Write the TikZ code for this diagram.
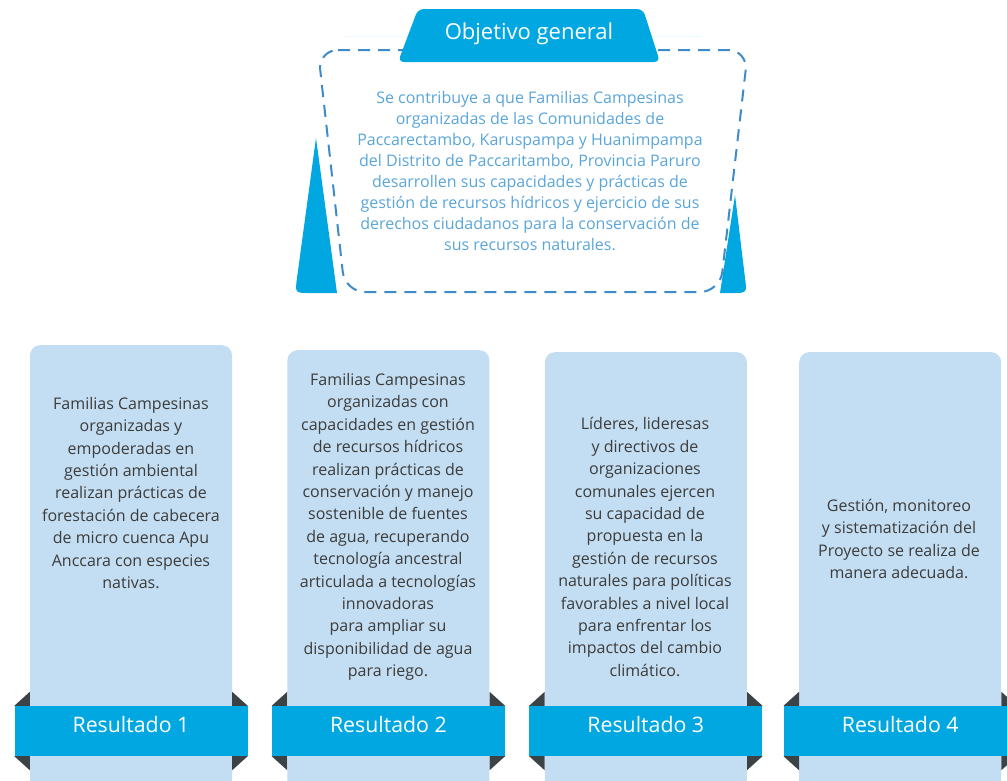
\documentclass[tikz,border=0pt]{standalone}
\usepackage{fontspec}
\setmainfont{Open Sans}
\usepackage{xcolor}
\usepackage{tikz}
\usetikzlibrary{positioning}
\definecolor{skyblue}{RGB}{0,167,225}
\definecolor{paleblue}{RGB}{195,222,243}
\definecolor{darkfold}{RGB}{59,67,71}
\definecolor{dashblue}{RGB}{61,139,201}
\definecolor{textblue}{RGB}{90,165,218}
\definecolor{textgray}{RGB}{60,60,59}

\begin{document}
\begin{tikzpicture}[
    x=1pt, y=-1pt,
    colbox/.style={rectangle, fill=paleblue, rounded corners=10pt, minimum width=202pt, minimum height=460pt, inner sep=0pt},
    coltext/.style={align=center, text=textgray, font=\fontsize{16}{22.4}\selectfont},
    goaltext/.style={align=center, text=textblue, font=\fontsize{16}{21.1}\selectfont},
    banner/.style={rectangle, fill=skyblue, text=white, minimum width=233pt, minimum height=50pt, text height=14pt, text depth=11pt, font=\fontsize{21.3}{24}\selectfont},
    fold/.style={fill=darkfold}
]
\useasboundingbox (0,0) rectangle (1007,780);
\clip (0,0) rectangle (1007,780);

% objetivo general
\draw[skyblue!8, line width=1pt] (345,36) -- (702,36);
\fill[skyblue] (316,138) -- (297,278) .. controls (295,293) .. (310,293) -- (337,293) -- cycle;
\fill[skyblue] (735,195) -- (720,293) -- (732,293) .. controls (747,293) .. (745,278) -- cycle;
\draw[dashblue, line width=2pt, dash pattern=on 12pt off 8pt, rounded corners=20pt]
    (318,50) -- (748,50) -- (720,292) -- (345,292) -- cycle;
\fill[skyblue, rounded corners=6pt] (398,62) -- (418,9) -- (643,9) -- (660,62) -- cycle;
\node[text=white, font=\fontsize{22}{24}\selectfont] (goal) at (529,34) {Objetivo general};
\node[goaltext] (goalbody) at (530,171) {Se contribuye a que Familias Campesinas\\
    organizadas de las Comunidades de\\
    Paccarectambo, Karuspampa y Huanimpampa\\
    del Distrito de Paccaritambo, Provincia Paruro\\
    desarrollen sus capacidades y prácticas de\\
    gestión de recursos hídricos y ejercicio de sus\\
    derechos ciudadanos para la conservación de\\
    sus recursos naturales.};

% resultados
\node[colbox, anchor=north] (col1) at (131,345) {};
\node[colbox, right=55pt of col1.north east, anchor=north west, yshift=-5pt] (col2) {};
\node[colbox, right=55pt of col2.north east, anchor=north west, yshift=-2pt] (col3) {};
\node[colbox, right=52pt of col3.north east, anchor=north west] (col4) {};

\node[coltext] (txt1) at (131,493) {Familias Campesinas\\ organizadas y\\ empoderadas en\\ gestión ambiental\\
    realizan prácticas de\\ forestación de cabecera\\ de micro cuenca Apu\\ Anccara con especies\\ nativas.};
\node[coltext] (txt2) at (388,527) {Familias Campesinas\\ organizadas con\\ capacidades en gestión\\ de recursos hídricos\\
    realizan prácticas de\\ conservación y manejo\\ sostenible de fuentes\\ de agua, recuperando\\
    tecnología ancestral\\ articulada a tecnologías\\ innovadoras\\ para ampliar su\\ disponibilidad de agua\\ para riego.};
\node[coltext] (txt3) at (645,547) {Líderes, lideresas\\ y directivos de\\ organizaciones\\ comunales ejercen\\
    su capacidad de\\ propuesta en la\\ gestión de recursos\\ naturales para políticas\\
    favorables a nivel local\\ para enfrentar los\\ impactos del cambio\\ climático.};
\node[coltext] (txt4) at (899,539) {Gestión, monitoreo\\ y sistematización del\\ Proyecto se realiza de\\ manera adecuada.};

\coordinate (bandline) at (0,731);
\foreach \i in {1,...,4} {
    \node[banner] (res\i) at (col\i |- bandline) {Resultado \i};
    \fill[fold] (res\i.north west) -- (res\i.north west -| col\i.west) -- ++(0,-14) -- cycle;
    \fill[fold] (res\i.south west) -- (res\i.south west -| col\i.west) -- ++(0,14) -- cycle;
    \fill[fold] (res\i.north east) -- (res\i.north east -| col\i.east) -- ++(0,-14) -- cycle;
    \fill[fold] (res\i.south east) -- (res\i.south east -| col\i.east) -- ++(0,14) -- cycle;
}
\end{tikzpicture}
\end{document}
